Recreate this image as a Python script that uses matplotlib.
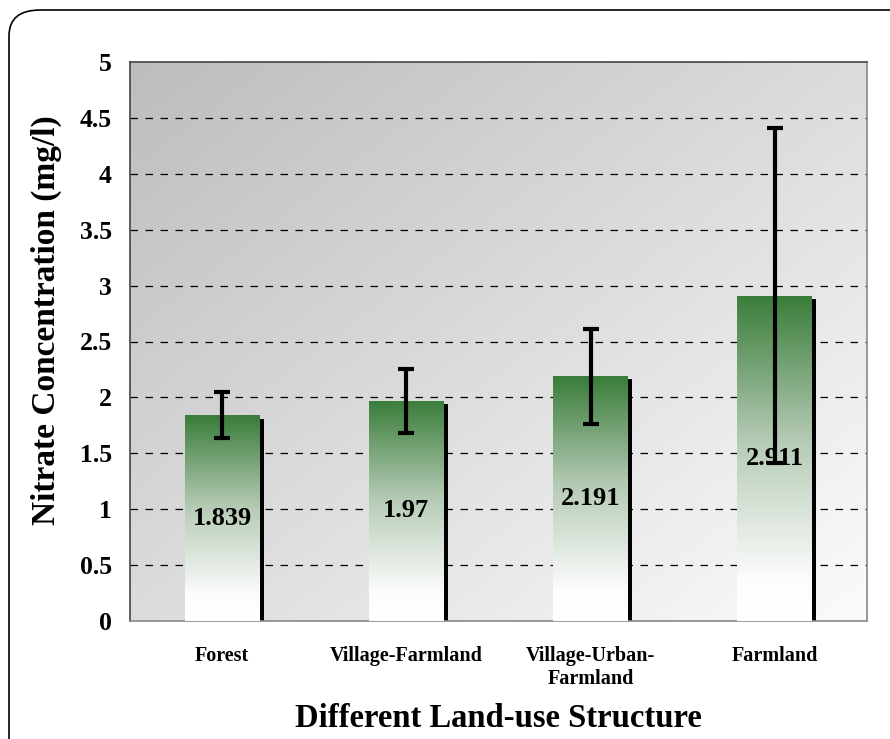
import matplotlib
matplotlib.use("Agg")
import matplotlib.pyplot as plt
import numpy as np
from matplotlib.patches import FancyBboxPatch, Rectangle
from matplotlib.colors import LinearSegmentedColormap

categories = ["Forest", "Village-Farmland", "Village-Urban-\nFarmland", "Farmland"]
means = [1.839, 1.97, 2.191, 2.911]
errors = [0.205, 0.285, 0.425, 1.5]
value_labels = ["1.839", "1.97", "2.191", "2.911"]
yticks = [0, 0.5, 1, 1.5, 2, 2.5, 3, 3.5, 4, 4.5, 5]
ytick_labels = ["0", "0.5", "1", "1.5", "2", "2.5", "3", "3.5", "4", "4.5", "5"]

plt.rcParams["font.family"] = ["Liberation Serif", "DejaVu Serif"]
plt.rcParams["font.weight"] = "bold"

fig = plt.figure(figsize=(8.9, 7.39), dpi=100)

# rounded outer frame (runs off the right and bottom edges)
frame = FancyBboxPatch((9 / 890, -0.1), 1.2, 1 - 10 / 739 + 0.1,
                       boxstyle="round,pad=0,rounding_size=0.035",
                       transform=fig.transFigure, fill=False,
                       edgecolor="black", linewidth=1.2)
fig.patches.append(frame)

ax = fig.add_axes([130 / 890, 1 - 621 / 739, 737 / 890, 559 / 739])
ax.set_xlim(-0.5, 3.5)
ax.set_ylim(0, 5)

# diagonal gray background gradient: darker top-left, lighter bottom-right
gx, gy = np.meshgrid(np.linspace(0, 1, 200), np.linspace(0, 1, 200))
g = (gx + gy) / 2
bg_cmap = LinearSegmentedColormap.from_list("bg", ["#bdbdbf", "#fbfbfb"])
ax.imshow(g, cmap=bg_cmap, extent=(-0.5, 3.5, 0, 5), aspect="auto",
          origin="upper", zorder=0)

for y in yticks[1:-1]:
    ax.axhline(y, linestyle=(0, (6, 6)), color="black", linewidth=0.9, zorder=1)

bar_cmap = LinearSegmentedColormap.from_list(
    "bar", [(0, "#ffffff"), (0.12, "#fdfdfd"), (0.55, "#b6cbb6"), (1.0, "#3a7d3a")])
width = 0.407
grad = np.linspace(0, 1, 256).reshape(-1, 1)
x = np.arange(len(categories))
for xi, m in zip(x, means):
    # shadow strip on the right
    ax.add_patch(Rectangle((xi + width / 2, 0), 0.022, m - 0.03,
                           facecolor="black", edgecolor="none", zorder=2))
    im = ax.imshow(grad, cmap=bar_cmap, origin="lower", aspect="auto",
                   extent=(xi - width / 2, xi + width / 2, 0, m), zorder=3)
    clip = Rectangle((xi - width / 2, 0), width, m, transform=ax.transData)
    im.set_clip_path(clip)

for xi, m, lab in zip(x, means, value_labels):
    ax.text(xi, m / 2, lab, ha="center", va="center", fontsize=19,
            fontweight="bold", zorder=4)

ax.errorbar(x, means, yerr=errors, fmt="none", ecolor="black",
            elinewidth=3, capsize=6, capthick=3, zorder=5)

ax.set_xlim(-0.5, 3.5)
ax.set_ylim(0, 5)
ax.set_xticks(x)
ax.set_xticklabels(categories, fontsize=14.5, fontweight="bold", va="top",
                   linespacing=1.2)
ax.set_yticks(yticks)
ax.set_yticklabels(ytick_labels, fontsize=18.5, fontweight="bold")
ax.tick_params(axis="both", length=0)
ax.tick_params(axis="x", pad=18)
ax.tick_params(axis="y", pad=13)

for side in ["top", "left"]:
    ax.spines[side].set_color("#444444")
    ax.spines[side].set_linewidth(1.2)
for side in ["right", "bottom"]:
    ax.spines[side].set_color("#888888")
    ax.spines[side].set_linewidth(1.2)

ax.set_ylabel("Nitrate Concentration (mg/l)", fontsize=24, fontweight="bold")
ax.yaxis.set_label_coords(-0.092, 0.538)
ax.set_xlabel("Different Land-use Structure", fontsize=23.5, fontweight="bold",
              labelpad=10)

fig.savefig("out.png", dpi=100)
